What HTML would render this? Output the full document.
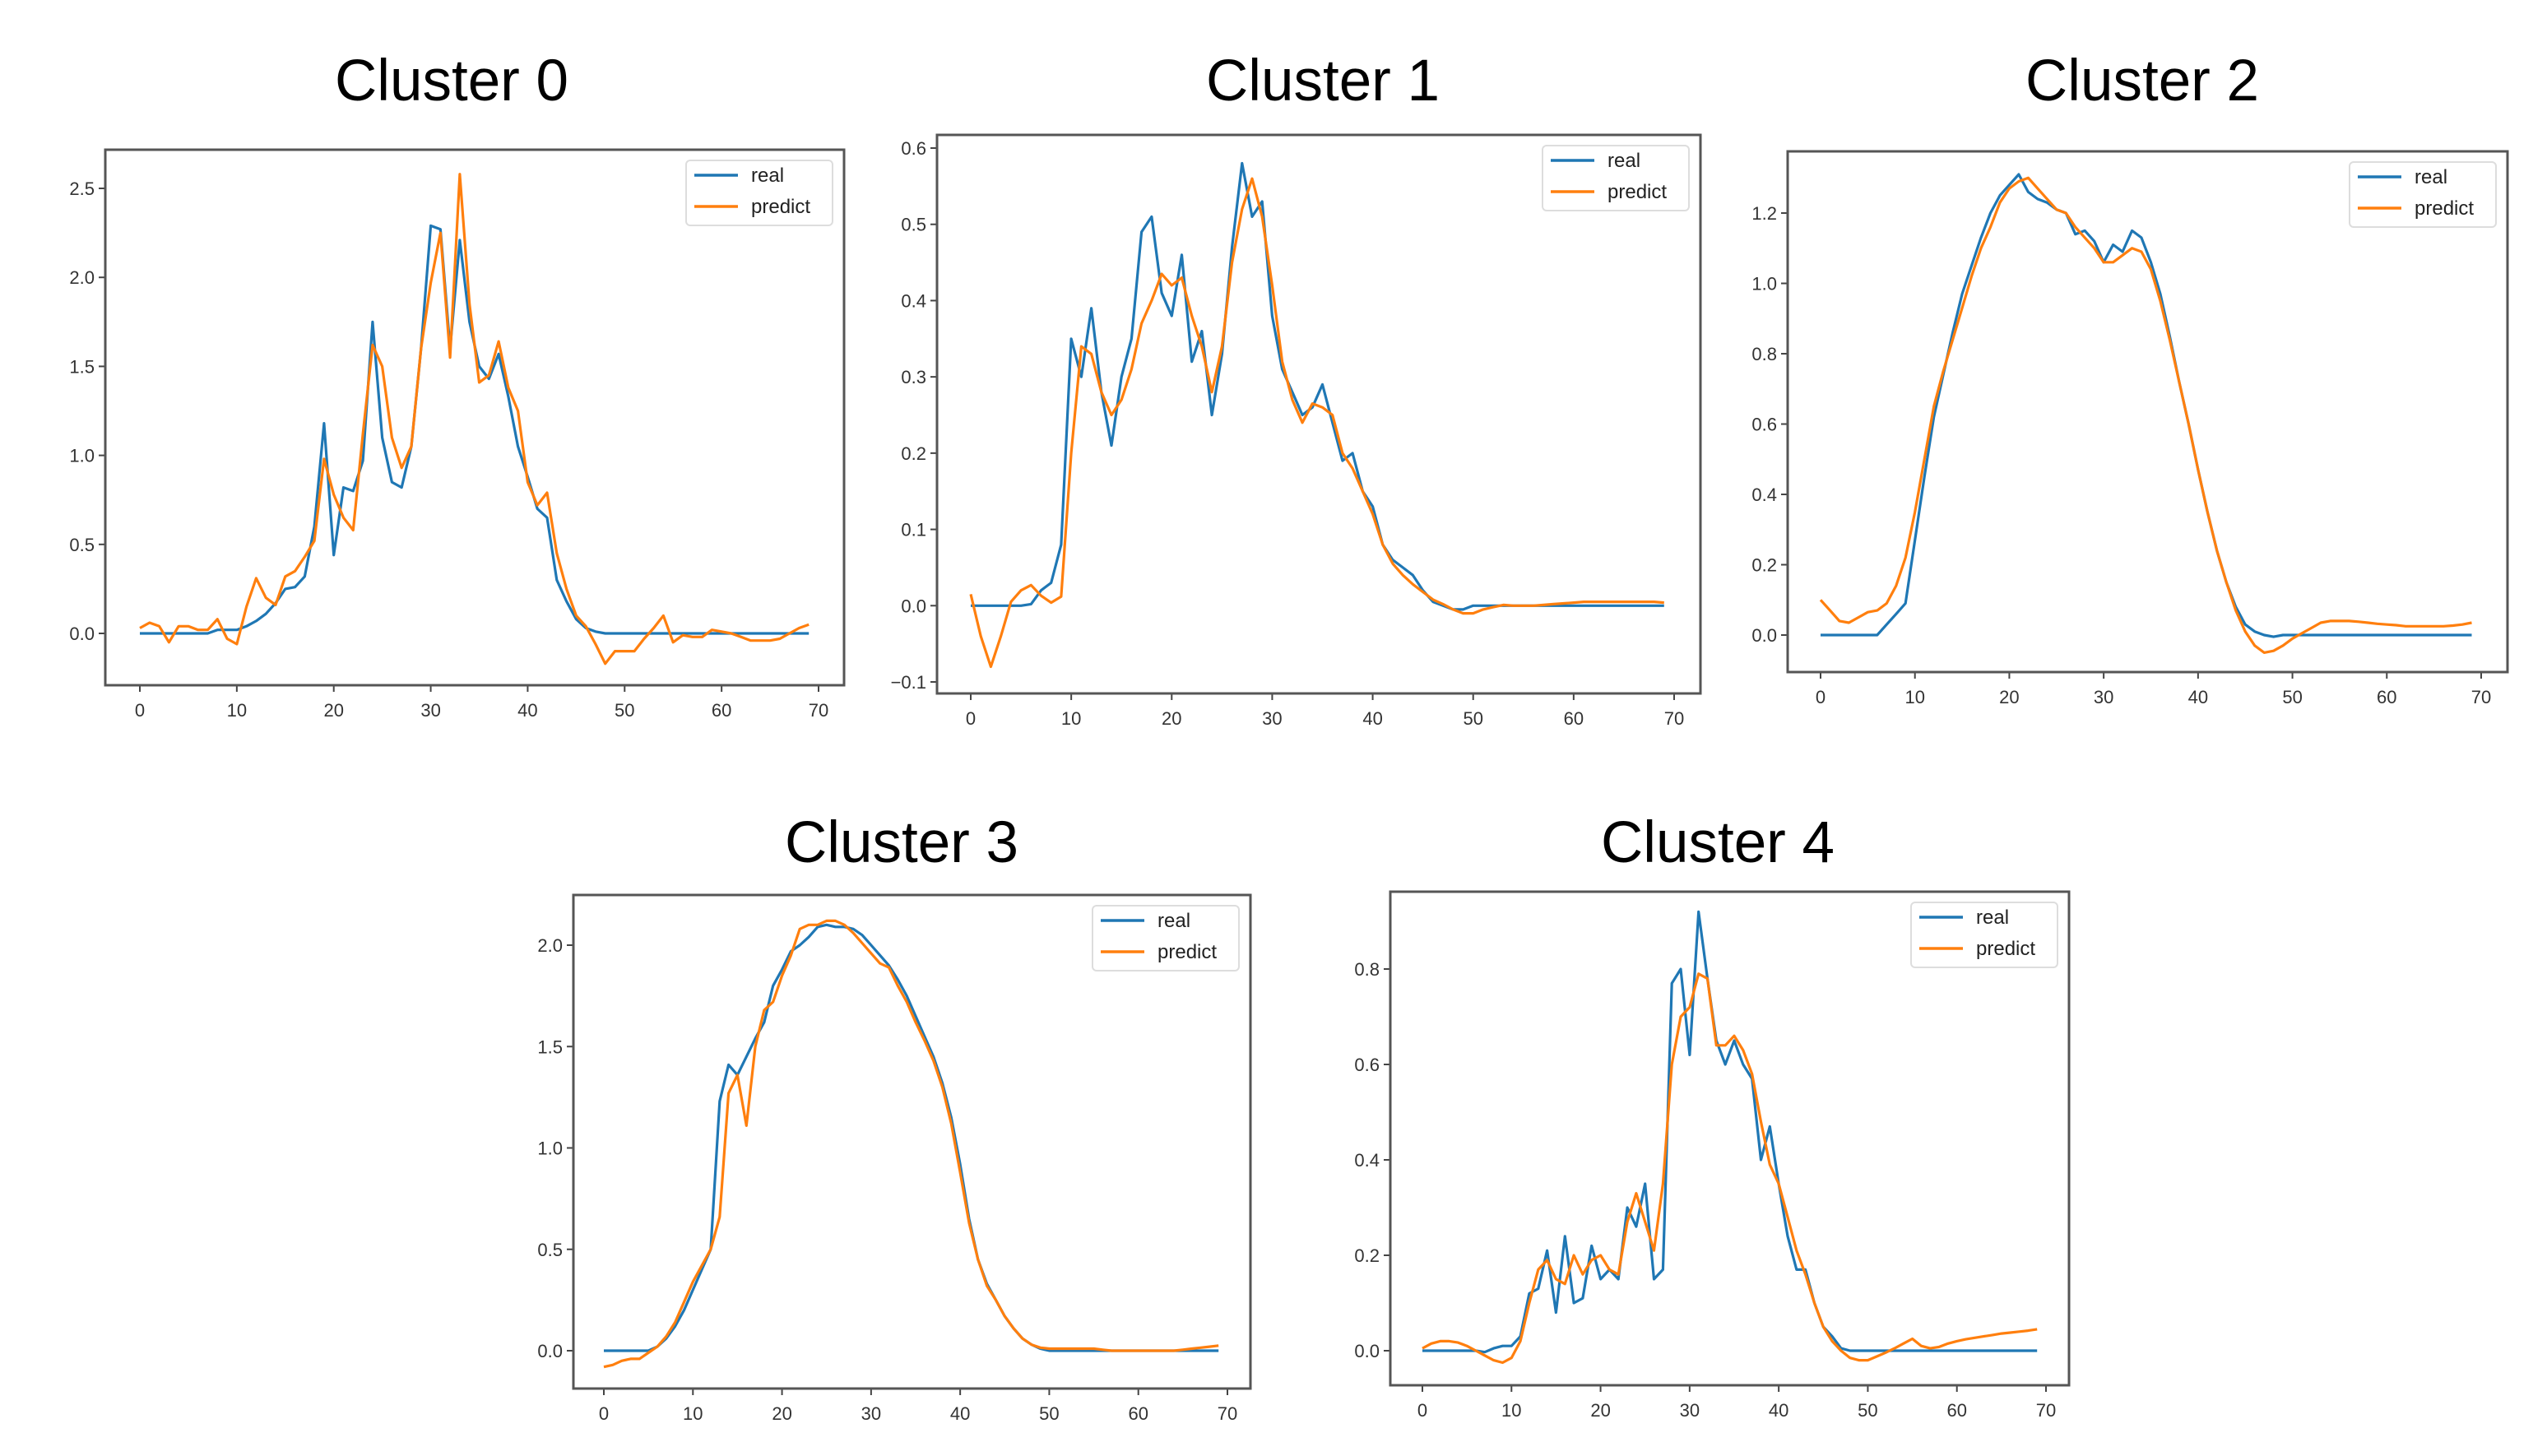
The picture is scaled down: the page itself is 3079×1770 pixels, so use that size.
<!DOCTYPE html>
<html><head><meta charset="utf-8"><style>
html,body{margin:0;padding:0;background:#fff}
svg{display:block}
text{font-family:"Liberation Sans",sans-serif}
</style></head><body>
<svg id="fig" width="3079" height="1770" viewBox="0 0 3079 1770" xmlns="http://www.w3.org/2000/svg"></svg>
<script>
const xTicks=[0,10,20,30,40,50,60,70];
const c0Real=[0,0,0,0,0,0,0,0,0.02,0.02,0.02,0.04,0.07,0.11,0.17,0.25,0.26,0.32,0.6,1.18,0.44,0.82,0.8,0.97,1.75,1.1,0.85,0.82,1.05,1.6,2.29,2.27,1.6,2.21,1.75,1.5,1.43,1.57,1.33,1.05,0.88,0.7,0.65,0.3,0.18,0.08,0.03,0.01,0,0,0,0,0,0,0,0,0,0,0,0,0,0,0,0,0,0,0,0,0,0];
const c0Pred=[0.03,0.06,0.04,-0.05,0.04,0.04,0.02,0.02,0.08,-0.03,-0.06,0.15,0.31,0.2,0.16,0.32,0.35,0.43,0.52,0.98,0.78,0.65,0.58,1.12,1.62,1.5,1.1,0.93,1.05,1.6,1.97,2.25,1.55,2.58,1.85,1.41,1.45,1.64,1.38,1.25,0.85,0.72,0.79,0.45,0.25,0.1,0.04,-0.06,-0.17,-0.1,-0.1,-0.1,-0.03,0.03,0.1,-0.05,-0.01,-0.02,-0.02,0.02,0.01,0,-0.02,-0.04,-0.04,-0.04,-0.03,0,0.03,0.05];
const c0YTicks=[0,0.5,1.0,1.5,2.0,2.5];
const c1Real=[0,0,0,0,0,0,0.002,0.02,0.03,0.08,0.35,0.3,0.39,0.28,0.21,0.3,0.35,0.49,0.51,0.41,0.38,0.46,0.32,0.36,0.25,0.33,0.47,0.58,0.51,0.53,0.38,0.31,0.28,0.25,0.26,0.29,0.24,0.19,0.2,0.15,0.13,0.08,0.06,0.05,0.04,0.02,0.005,0,-0.005,-0.005,0,0,0,0,0,0,0,0,0,0,0,0,0,0,0,0,0,0,0,0];
const c1Pred=[0.015,-0.04,-0.08,-0.04,0.005,0.02,0.027,0.013,0.004,0.012,0.2,0.34,0.33,0.28,0.25,0.27,0.31,0.37,0.4,0.435,0.42,0.43,0.38,0.34,0.28,0.34,0.45,0.52,0.56,0.51,0.42,0.32,0.27,0.24,0.265,0.26,0.25,0.2,0.18,0.15,0.12,0.08,0.055,0.04,0.028,0.018,0.008,0.002,-0.005,-0.01,-0.01,-0.005,-0.002,0.001,0,0,0,0.001,0.002,0.003,0.004,0.005,0.005,0.005,0.005,0.005,0.005,0.005,0.005,0.004];
const c1YTicks=[-0.1,0,0.1,0.2,0.3,0.4,0.5,0.6];
const c2Real=[0,0,0,0,0,0,0,0.03,0.06,0.09,0.27,0.45,0.62,0.74,0.86,0.97,1.05,1.13,1.2,1.25,1.28,1.31,1.26,1.24,1.23,1.21,1.2,1.14,1.15,1.12,1.06,1.11,1.09,1.15,1.13,1.06,0.97,0.85,0.72,0.6,0.47,0.35,0.24,0.15,0.08,0.03,0.01,0,-0.005,0,0,0,0,0,0,0,0,0,0,0,0,0,0,0,0,0,0,0,0,0];
const c2Pred=[0.1,0.07,0.04,0.035,0.05,0.065,0.07,0.09,0.14,0.22,0.35,0.5,0.65,0.75,0.84,0.93,1.02,1.1,1.16,1.23,1.27,1.29,1.3,1.27,1.24,1.21,1.2,1.16,1.13,1.1,1.06,1.06,1.08,1.1,1.09,1.04,0.95,0.84,0.72,0.6,0.47,0.35,0.24,0.15,0.07,0.01,-0.03,-0.05,-0.045,-0.03,-0.01,0.005,0.02,0.035,0.04,0.04,0.04,0.038,0.035,0.032,0.03,0.028,0.025,0.025,0.025,0.025,0.025,0.027,0.03,0.035];
const c2YTicks=[0,0.2,0.4,0.6,0.8,1.0,1.2];
const c3Real=[0,0,0,0,0,0,0.02,0.06,0.12,0.2,0.3,0.4,0.5,1.23,1.41,1.36,1.45,1.54,1.62,1.8,1.88,1.97,2.0,2.04,2.09,2.1,2.09,2.09,2.08,2.05,2.0,1.95,1.9,1.83,1.75,1.65,1.55,1.45,1.32,1.15,0.92,0.65,0.45,0.33,0.25,0.17,0.11,0.06,0.03,0.01,0,0,0,0,0,0,0,0,0,0,0,0,0,0,0,0,0,0,0,0];
const c3Pred=[-0.08,-0.07,-0.05,-0.04,-0.04,-0.01,0.02,0.07,0.14,0.24,0.34,0.42,0.5,0.66,1.27,1.36,1.11,1.5,1.68,1.72,1.85,1.95,2.08,2.1,2.1,2.12,2.12,2.1,2.06,2.01,1.96,1.91,1.89,1.8,1.72,1.62,1.53,1.43,1.3,1.12,0.88,0.63,0.45,0.32,0.25,0.17,0.11,0.06,0.03,0.015,0.01,0.01,0.01,0.01,0.01,0.01,0.005,0,0,0,0,0,0,0,0,0.005,0.01,0.015,0.02,0.025];
const c3YTicks=[0,0.5,1.0,1.5,2.0];
const c4Real=[0,0,0,0,0,0,0,-0.003,0.005,0.01,0.01,0.03,0.12,0.13,0.21,0.08,0.24,0.1,0.11,0.22,0.15,0.17,0.15,0.3,0.26,0.35,0.15,0.17,0.77,0.8,0.62,0.92,0.78,0.65,0.6,0.65,0.6,0.57,0.4,0.47,0.35,0.24,0.17,0.17,0.1,0.05,0.03,0.005,0,0,0,0,0,0,0,0,0,0,0,0,0,0,0,0,0,0,0,0,0,0];
const c4Pred=[0.005,0.015,0.02,0.02,0.017,0.01,0,-0.01,-0.02,-0.025,-0.015,0.02,0.1,0.17,0.19,0.15,0.14,0.2,0.16,0.19,0.2,0.17,0.16,0.27,0.33,0.27,0.21,0.35,0.6,0.7,0.72,0.79,0.78,0.64,0.64,0.66,0.63,0.58,0.48,0.39,0.35,0.28,0.21,0.16,0.1,0.05,0.02,0,-0.015,-0.02,-0.02,-0.012,-0.004,0.005,0.015,0.025,0.01,0.005,0.008,0.015,0.02,0.024,0.027,0.03,0.033,0.036,0.038,0.04,0.042,0.045];
const c4YTicks=[0,0.2,0.4,0.6,0.8];

const panels=[
 {id:0,title:'Cluster 0',real:c0Real,pred:c0Pred,yt:c0YTicks,L:128,R:1026,T:182,B:833,x0:170,x70:995,yA:0,pA:770,yB:2.5,pB:229,tx:549,ty:122,dec:1},
 {id:1,title:'Cluster 1',real:c1Real,pred:c1Pred,yt:c1YTicks,L:1139,R:2067,T:164,B:843,x0:1180,x70:2035,yA:0.6,pA:180,yB:-0.1,pB:829,tx:1608,ty:122,dec:1},
 {id:2,title:'Cluster 2',real:c2Real,pred:c2Pred,yt:c2YTicks,L:2173,R:3048,T:184,B:817,x0:2213,x70:3016,yA:0,pA:772,yB:1.2,pB:259,tx:2604,ty:122,dec:1},
 {id:3,title:'Cluster 3',real:c3Real,pred:c3Pred,yt:c3YTicks,L:697,R:1520,T:1088,B:1688,x0:734,x70:1492,yA:0,pA:1642,yB:2.0,pB:1149,tx:1096,ty:1048,dec:1},
 {id:4,title:'Cluster 4',real:c4Real,pred:c4Pred,yt:c4YTicks,L:1690,R:2515,T:1084,B:1684,x0:1729,x70:2487,yA:0,pA:1642,yB:0.8,pB:1178,tx:2088,ty:1048,dec:1}
];
const NS='http://www.w3.org/2000/svg';
const svg=document.getElementById('fig');
function mk(tag,attrs,parent){const e=document.createElementNS(NS,tag);for(const k in attrs)e.setAttribute(k,attrs[k]);parent.appendChild(e);return e;}
function fmt(v){let s=v.toFixed(1);return s.replace('-','\u2212');}
panels.forEach(p=>{
 const g=mk('g',{},svg);
 
 
 const xs=v=>p.x0+(v/70)*(p.x70-p.x0);
 const ys=v=>p.pA+(v-p.yA)/(p.yB-p.yA)*(p.pB-p.pA);
 const t=mk('text',{x:p.tx,y:p.ty,'text-anchor':'middle','font-size':71,fill:'#000'},g);
 t.textContent=p.title;
 
 
 // x ticks
 xTicks.forEach(v=>{
  const x=xs(v);
  mk('line',{x1:x,x2:x,y1:p.B,y2:p.B+8,stroke:'#444','stroke-width':2},g);
  const tl=mk('text',{x:x,y:p.B+38,'text-anchor':'middle','font-size':22,fill:'#333'},g);
  tl.textContent=v;
  
  
 });
 p.yt.forEach(v=>{
  const y=ys(v);
  mk('line',{x1:p.L-8,x2:p.L,y1:y,y2:y,stroke:'#444','stroke-width':2},g);
  const tl=mk('text',{x:p.L-13,y:y+8,'text-anchor':'end','font-size':22,fill:'#333'},g);
  tl.textContent=fmt(v);
  
  
 });
 function line(arr,color,name){
  const d=arr.map((v,i)=>(i?'L':'M')+xs(i).toFixed(1)+' '+ys(v).toFixed(1)).join(' ');
  const pl=mk('path',{d:d,fill:'none',stroke:color,'stroke-width':3.2,'stroke-linejoin':'round'},g);
  
  
 }
 line(p.real,'#1f77b4','real-line');
 line(p.pred,'#ff7f0e','predict-line');
 const fr=mk('rect',{x:p.L,y:p.T,width:p.R-p.L,height:p.B-p.T,fill:'none',stroke:'#555','stroke-width':3},g);
 
 
 // legend
 const lg=mk('g',{},g);
 
 
 const lx=p.R-192, ly=p.T+13;
 mk('rect',{x:lx,y:ly,width:178,height:79,rx:5,fill:'#fff',stroke:'#ddd','stroke-width':2},lg);
 mk('line',{x1:lx+10,x2:lx+63,y1:ly+18,y2:ly+18,stroke:'#1f77b4','stroke-width':3.5},lg);
 mk('line',{x1:lx+10,x2:lx+63,y1:ly+56,y2:ly+56,stroke:'#ff7f0e','stroke-width':3.5},lg);
 const a=mk('text',{x:lx+79,y:ly+26,'font-size':24,fill:'#222'},lg);a.textContent='real';
 
 
 const b=mk('text',{x:lx+79,y:ly+64,'font-size':24,fill:'#222'},lg);b.textContent='predict';
 
 
});
</script>
</body></html>
